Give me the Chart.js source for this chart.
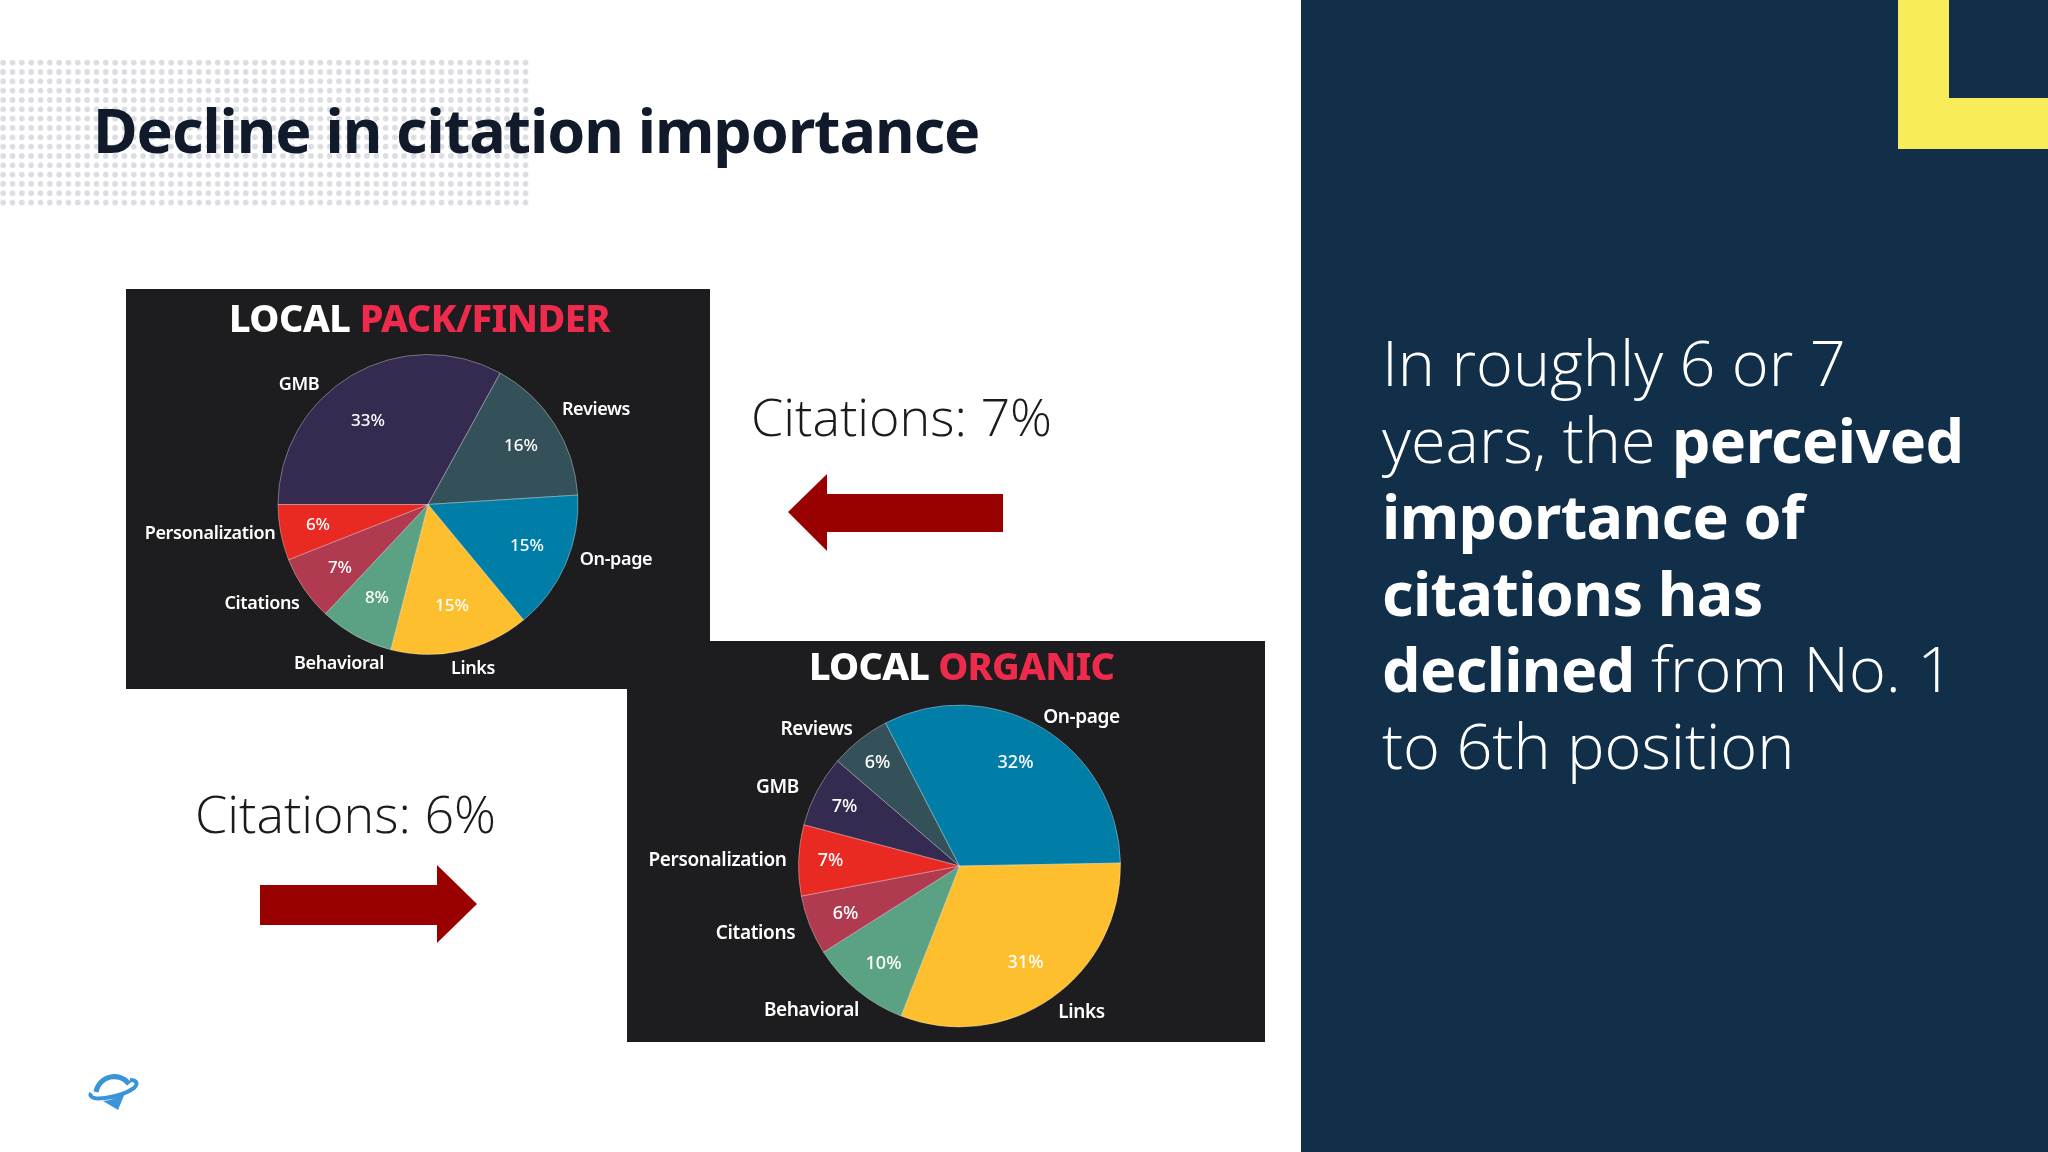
<!DOCTYPE html>
<html>
<head>
<meta charset="utf-8">
<script src="https://cdn.jsdelivr.net/npm/chart.js@4"></script>
<style>
  html, body { margin: 0; padding: 0; background: #fff; }
  #slide { position: relative; width: 2048px; height: 1152px; overflow: hidden; background: #fff; font-family: "Noto Sans", sans-serif; }
  #slide > * { position: absolute; }
  #dots { left: 0; top: 58px; width: 530px; height: 150px;
    background-image: radial-gradient(circle, #dcdde2 2.6px, rgba(255,255,255,0) 3.2px);
    background-size: 9.33px 9.33px; background-position: -1.5px 0; }
  h1 { left: 93px; top: 85px; margin: 0; font-size: 61px; line-height: 90px; font-weight: 700; letter-spacing: -1.05px; color: #111a2b; white-space: nowrap; }
  #side { left: 1301px; top: 0; width: 747px; height: 1152px; background: #122f4a; }
  #cornerV { left: 1898px; top: 0; width: 51px; height: 149px; background: #f9ec5a; }
  #cornerH { left: 1898px; top: 98px; width: 150px; height: 51px; background: #f9ec5a; }
  #copy { left: 1382px; top: 324px; margin: 0; font-size: 63px; line-height: 76.6px; font-weight: 300; color: #fff; white-space: nowrap; font-family: "Open Sans", sans-serif; }
  #copy b { font-size: 61px; line-height: 0; font-weight: 700; letter-spacing: -0.6px; font-family: "Noto Sans", sans-serif; }
  .note { font-family: "Open Sans", sans-serif; font-weight: 300; font-size: 52px; line-height: 60px; color: #1b1b1b; white-space: nowrap; }
  .panel { background: #1d1c1e; }
  .panel canvas { position: absolute; left: 0; top: 0; }
  .head { position: absolute; font-size: 38px; line-height: 50px; font-weight: 800; white-space: nowrap; color: #fff; }
  .head span { color: #ef2b4d; }
</style>
</head>
<body>
<div id="slide">
  <div id="dots"></div>
  <h1>Decline in citation importance</h1>

  <div class="panel" style="left:126px;top:289px;width:584px;height:400px">
    <canvas id="packChart" width="584" height="400"></canvas>
    <div class="head" style="left:103px;top:3px;letter-spacing:-0.55px">LOCAL <span>PACK/FINDER</span></div>
  </div>
  <div class="panel" style="left:627px;top:641px;width:638px;height:401px">
    <canvas id="organicChart" width="638" height="401"></canvas>
    <div class="head" style="left:182px;top:-1px;letter-spacing:-0.8px">LOCAL <span>ORGANIC</span></div>
  </div>

  <div class="note" style="left:751px;top:386px">Citations: 7%</div>
  <div class="note" style="left:195px;top:783px">Citations: 6%</div>

  <svg style="left:0;top:0" width="2048" height="1152">
    <polygon fill="#990000" points="788,512 827,474 827,494 1003,494 1003,532 827,532 827,551"/>
    <polygon fill="#990000" points="477,904 437,865 437,885 260,885 260,925 437,925 437,943"/>
    <g fill="none" stroke="#3a94d8">
      <path stroke-width="5" d="M96 1092 A18.5 18.5 0 0 1 129 1084"/>
      <path stroke-width="4" d="M91 1093 C86 1103 120 1098 134 1088 C139 1083 136 1080 130 1080"/>
    </g>
    <path fill="#3a94d8" d="M103 1101 Q115 1100 125 1093 L118 1110 Z"/>
  </svg>

  <div id="side"></div>
  <div id="cornerV"></div>
  <div id="cornerH"></div>
  <p id="copy">In roughly 6 or 7<br>years, the <b>perceived</b><br><b>importance of</b><br><b>citations has</b><br><b>declined</b> from No. 1<br>to 6th position</p>
</div>

<script>
const factors = ['GMB', 'Reviews', 'On-page', 'Links', 'Behavioral', 'Citations', 'Personalization'];
const packValues = [33, 16, 15, 15, 8, 7, 6];
const organicValues = [7.2, 6.1, 32.3, 31.2, 10.1, 6.0, 7.1];
const sliceColors = ['#352b50', '#34515a', '#007ea7', '#fdbf2d', '#5aa283', '#b03a50', '#e82a22'];

// label offsets from the pie centre, same order as factors
const packNameSpots = [[-129, -120], [168, -95], [188, 55], [45, 164], [-89, 159], [-166, 99], [-218, 29]];
const packPctSpots = [[-60, -83], [93, -58], [99, 42], [24, 102], [-51, 94], [-88, 64], [-110, 21]];
const organicNameSpots = [[-182, -78], [-143, -136], [122, -148], [122, 147], [-148, 145], [-204, 68], [-242, -5]];
const organicPctSpots = [[-115, -59], [-82, -103], [56, -103], [66, 97], [-76, 98], [-114, 48], [-129, -5]];

const pieLabels = {
    id: 'pieLabels',
    afterDatasetsDraw(chart, args, opts) {
        const ctx = chart.ctx;
        const arc = chart.getDatasetMeta(0).data[0];
        ctx.save();
        ctx.fillStyle = '#fff';
        ctx.textAlign = 'center';
        ctx.textBaseline = 'middle';
        factors.forEach((name, i) => {
            ctx.font = '600 ' + opts.nameSize + 'px "Noto Sans"';
            ctx.letterSpacing = '-0.35px';
            ctx.fillText(name, arc.x + opts.nameSpots[i][0], arc.y + opts.nameSpots[i][1]);
            ctx.font = '500 ' + opts.pctSize + 'px "Noto Sans"';
            ctx.letterSpacing = '0px';
            const pct = Math.round(chart.data.datasets[0].data[i]) + '%';
            ctx.fillText(pct, arc.x + opts.pctSpots[i][0], arc.y + opts.pctSpots[i][1]);
        });
        ctx.restore();
    }
};

function makePie(id, values, startAngle, padding, labelOpts) {
    return new Chart(document.getElementById(id), {
        type: 'pie',
        data: {
            labels: factors,
            datasets: [{
                data: values,
                backgroundColor: sliceColors,
                borderColor: 'rgba(255, 255, 255, 0.35)',
                borderWidth: 1
            }]
        },
        options: {
            responsive: false,
            animation: false,
            devicePixelRatio: 1,
            rotation: startAngle,
            layout: { padding: padding },
            plugins: {
                legend: { display: false },
                tooltip: { enabled: false },
                pieLabels: labelOpts
            }
        },
        plugins: [pieLabels]
    });
}

makePie('packChart', packValues, 270,
    { left: 151, right: 131, top: 65, bottom: 34 },
    { nameSpots: packNameSpots, pctSpots: packPctSpots, nameSize: 18, pctSize: 17 });

makePie('organicChart', organicValues, 284.8,
    { left: 171, right: 144, top: 63, bottom: 14 },
    { nameSpots: organicNameSpots, pctSpots: organicPctSpots, nameSize: 19, pctSize: 18 });
</script>
</body>
</html>
